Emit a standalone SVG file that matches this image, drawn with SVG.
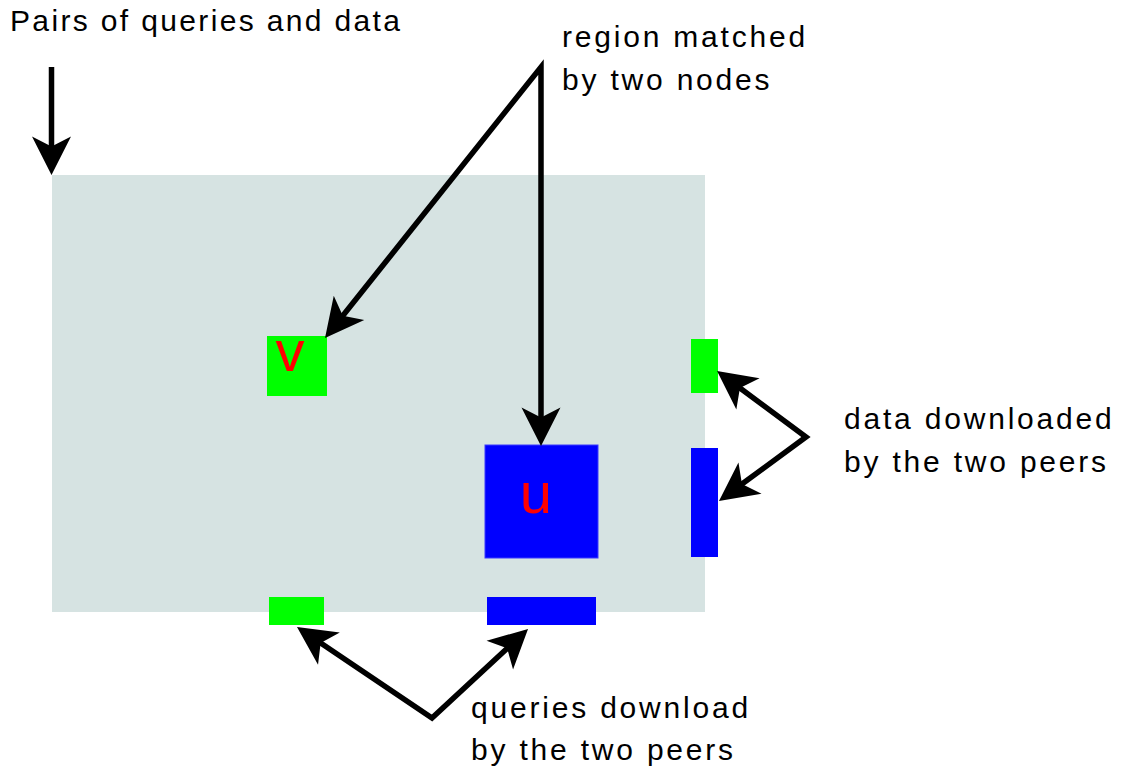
<svg xmlns="http://www.w3.org/2000/svg" width="1122" height="769" viewBox="0 0 1122 769">
  <style>
    .lbl { font-family: "Liberation Sans", Arial, sans-serif; font-size: 30px; letter-spacing: 2.8px; fill: #000; }
    .nodeLetter { font-family: "Liberation Sans", Arial, sans-serif; font-size: 58px; fill: #ff0000; text-anchor: middle; }
    .conn { fill: none; stroke: #000; stroke-width: 5.5; stroke-linejoin: miter; }
  </style>
  <defs>
    <marker id="arrow" viewBox="0 -20 40 40" refX="18" refY="0" markerWidth="40" markerHeight="40" markerUnits="userSpaceOnUse" orient="auto-start-reverse" overflow="visible">
      <path d="M0,-19.5 L38.5,0 L0,19.5 L10,0 Z" fill="#000"/>
    </marker>
  </defs>
  <rect width="1122" height="769" fill="#ffffff"/>

  <g id="region">
    <rect x="52" y="175" width="653" height="437" fill="#d6e3e2"/>
  </g>

  <g id="node-v">
    <rect x="267" y="336" width="60" height="60" fill="#00ff00"/>
    <text class="nodeLetter" x="290" y="371">v</text>
  </g>
  <g id="node-u">
    <rect x="485" y="445" width="113" height="113" fill="#0000ff" stroke="#3a3aff" stroke-width="1"/>
    <text class="nodeLetter" x="536" y="513">u</text>
  </g>
  <g id="data-v">
    <rect x="691" y="339" width="27" height="54" fill="#00ff00"/>
  </g>
  <g id="data-u">
    <rect x="691" y="448" width="27" height="109" fill="#0000ff"/>
  </g>
  <g id="query-v">
    <rect x="269" y="597" width="55" height="28" fill="#00ff00"/>
  </g>
  <g id="query-u">
    <rect x="487" y="597" width="109" height="28" fill="#0000ff"/>
  </g>

  <g id="labels">
    <text class="lbl" x="10" y="31" style="letter-spacing:2.35px">Pairs of queries and data</text>
    <text class="lbl" x="562" y="47">region matched</text>
    <text class="lbl" x="562" y="90">by two nodes</text>
    <text class="lbl" x="844" y="429">data downloaded</text>
    <text class="lbl" x="844" y="472">by the two peers</text>
    <text class="lbl" x="471" y="718">queries download</text>
    <text class="lbl" x="471" y="760">by the two peers</text>
  </g>

  <g id="connectors">
    <polyline class="conn" points="51.5,67 51.5,154.5" marker-end="url(#arrow)"/>
    <polyline class="conn" points="337.8,322 541,67 541,425.5" marker-start="url(#arrow)" marker-end="url(#arrow)"/>
    <polyline class="conn" points="733.5,383.2 806,437 735.5,488.8" marker-start="url(#arrow)" marker-end="url(#arrow)"/>
    <polyline class="conn" points="314,638.5 432,718 513,642.9" marker-start="url(#arrow)" marker-end="url(#arrow)"/>
  </g>
</svg>
